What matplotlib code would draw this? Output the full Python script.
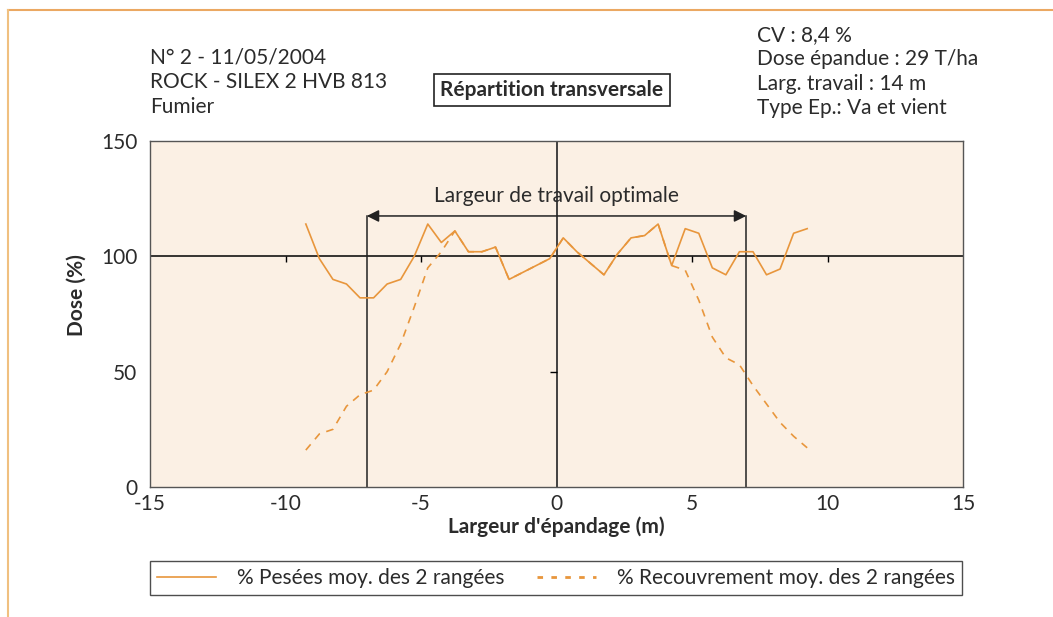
import matplotlib
matplotlib.use('Agg')
import matplotlib.pyplot as plt
from matplotlib.lines import Line2D

# ── données ─────────────────────────────────────────────
largeur = [-9.25, -8.75, -8.25, -7.75, -7.25, -6.75, -6.25, -5.75, -5.25, -4.75,
           -4.25, -3.75, -3.25, -2.75, -2.25, -1.75, -1.25, -0.75, -0.25, 0.25,
           0.75, 1.25, 1.75, 2.25, 2.75, 3.25, 3.75, 4.25, 4.75, 5.25,
           5.75, 6.25, 6.75, 7.25, 7.75, 8.25, 8.75, 9.25]
pesees = [114, 99, 90, 88, 82, 82, 88, 90, 100, 114,
          106, 111, 102, 102, 104, 90, 93, 96, 99, 108,
          102, 97, 92, 101, 108, 109, 114, 96, 112, 110,
          95, 92, 102, 102, 92, 94.5, 110, 112]
recouvrement = [16, 23, 25, 35, 40, 42, 50, 62, 78, 95,
                102, 111, 102, 102, 104, 90, 93, 96, 99, 108,
                102, 97, 92, 101, 108, 109, 114, 96, 94, 81,
                65, 56, 53, 44, 36, 28, 22, 17]
x_ticks = [-15, -10, -5, 0, 5, 10, 15]
y_ticks = [0, 50, 100, 150]
larg_optimale = [-7, 7]

ORANGE = '#E8963C'
FOND = '#FBF0E4'
TXT = '#2b2b2b'
FS = 15
plt.rcParams['font.family'] = ['Lato', 'DejaVu Sans']
plt.rcParams['axes.unicode_minus'] = False

fig = plt.figure(figsize=(10.53, 6.17), dpi=100)
fig.patch.set_facecolor('white')

# cadre orange de la page
fig.add_artist(Line2D([8/1053, 1], [1 - 10/617, 1 - 10/617], color='#EBA862', lw=1.5))
fig.add_artist(Line2D([8/1053, 8/1053], [0, 1 - 10/617], color='#F0C080', lw=1.5))

ax = fig.add_axes([150/1053, 1 - 487/617, 813/1053, 346/617])
ax.set_facecolor(FOND)
for s in ax.spines.values():
    s.set_color('#555555')
    s.set_linewidth(1.0)

ax.set_xlim(-15, 15)
ax.set_ylim(0, 150)
ax.set_xticks(x_ticks)
ax.set_yticks(y_ticks)
ax.tick_params(length=0, labelsize=FS, colors=TXT, pad=9)
ax.tick_params(axis='x', pad=5)

# axes croisés (x = 0, y = 100)
ax.axhline(100, color='black', lw=1.1, zorder=2)
ax.axvline(0, color='#333333', lw=1.3, zorder=2)
ax.plot([-10, -5, 5, 10], [100] * 4, ls='none', marker=3, ms=4, color='black', mew=1)
ax.plot([0], [50], ls='none', marker=0, ms=5, color='black', mew=1)

# largeur de travail optimale
for xv in larg_optimale:
    ax.plot([xv, xv], [0, 117.5], color='#222222', lw=1.1, zorder=2)
ax.annotate('', xy=(larg_optimale[0], 117.5), xytext=(larg_optimale[1], 117.5),
            arrowprops=dict(arrowstyle='<|-|>', color='#222222', lw=1.1,
                            mutation_scale=18, shrinkA=0, shrinkB=0))
ax.text(0, 126, 'Largeur de travail optimale', ha='center', va='center',
        fontsize=FS, color=TXT)

# courbes
ax.plot(largeur, recouvrement, color=ORANGE, lw=1.2, dashes=(4.5, 4), zorder=3,
        label='% Recouvrement moy. des 2 rangées')
ax.plot(largeur, pesees, color=ORANGE, lw=1.2, zorder=4,
        label='% Pesées moy. des 2 rangées')

ax.set_xlabel("Largeur d'épandage (m)", fontsize=FS, fontweight='bold', color=TXT)
ax.set_ylabel('Dose (%)', fontsize=FS, fontweight='bold', color=TXT)
ax.xaxis.set_label_coords(0.5, -0.085)
ax.yaxis.set_label_coords(-0.078, 0.555)

# légende
h_p = Line2D([], [], color=ORANGE, lw=1.2)
h_r = Line2D([], [], color=ORANGE, lw=2, dashes=(2, 3))
leg = fig.legend([h_p, h_r], ['% Pesées moy. des 2 rangées', '% Recouvrement moy. des 2 rangées'],
                 loc='center', bbox_to_anchor=(556/1053, 1 - 578/617), ncol=2,
                 fontsize=FS, frameon=True, fancybox=False, edgecolor='#222222',
                 handlelength=2.8, handletextpad=1.0, columnspacing=1.6,
                 borderpad=0.35, labelcolor=TXT)
leg.get_frame().set_linewidth(1.0)

# textes d'en-tête
for i, t in enumerate(['N° 2 - 11/05/2004', 'ROCK - SILEX 2 HVB 813', 'Fumier']):
    fig.text(150/1053, 1 - (58 + 24.5 * i)/617, t, fontsize=FS, color=TXT, va='center')
for i, t in enumerate(['CV : 8,4 %', 'Dose épandue : 29 T/ha', 'Larg. travail : 14 m',
                       'Type Ep.: Va et vient']):
    fig.text(757/1053, 1 - (35 + 24.3 * i)/617, t, fontsize=FS, color=TXT, va='center')
fig.text(552/1053, 1 - 90/617, 'Répartition transversale', fontsize=FS, fontweight='bold',
         color=TXT, ha='center', va='center',
         bbox=dict(boxstyle='square,pad=0.3', fc='white', ec='#222222', lw=1.2))

fig.savefig('out.png', dpi=100, facecolor='white')
